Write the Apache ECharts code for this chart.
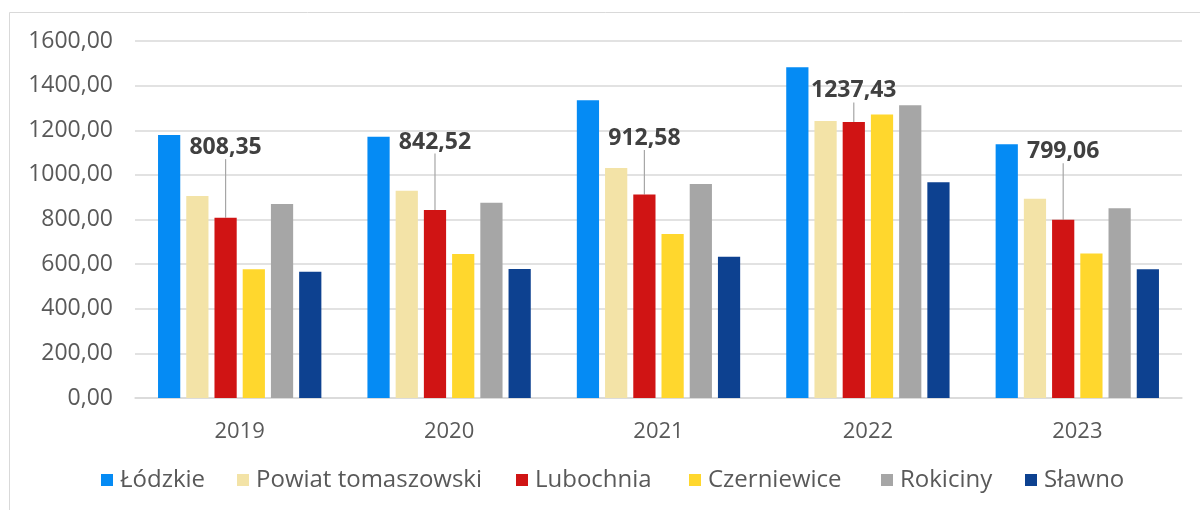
<!DOCTYPE html>
<html>
<head>
<meta charset="utf-8">
<script src="https://cdn.jsdelivr.net/npm/echarts@6/dist/echarts.min.js"></script>
<style>
html,body{margin:0;padding:0;background:#fff;}
#chart{width:1200px;height:510px;}
</style>
</head>
<body>
<div id="chart"></div>
<script>
const categories = ['2019', '2020', '2021', '2022', '2023'];
const seriesNames = ['Łódzkie', 'Powiat tomaszowski', 'Lubochnia', 'Czerniewice', 'Rokiciny', 'Sławno'];
const lodzkie = [1179, 1171, 1334, 1482, 1137];
const powiatTomaszowski = [905, 929, 1031, 1242, 893];
const lubochnia = [808.35, 842.52, 912.58, 1237.43, 799.06];
const czerniewice = [577, 645, 735, 1271, 648];
const rokiciny = [870, 875, 959, 1312, 850];
const slawno = [566, 578, 633, 967, 577];
const yTicks = { min: 0, max: 1600, interval: 200 };

const colors = ['#058bf4', '#f3e3a7', '#d01414', '#ffd72d', '#a6a6a6', '#0d4190'];
const labelLift = [70, 68, 56, 31, 68]; // label centre distance above bar top (px)
const legendLeft = [101, 237, 516, 689, 881, 1025]; // legend item x positions (px)
const FONT = 'Open Sans';

const dataSets = [lodzkie, powiatTomaszowski, lubochnia, czerniewice, rokiciny, slawno];
const fmt = v => Number(v).toFixed(2).replace('.', ',');

const series = dataSets.map((d, i) => {
  const s = {
    name: seriesNames[i],
    type: 'bar',
    data: d,
    barGap: '27%',
    barCategoryGap: '22%',
    itemStyle: { color: colors[i] },
    emphasis: { disabled: true }
  };
  if (i === 2) {
    s.label = {
      show: true,
      position: 'top',
      distance: 5,
      formatter: p => fmt(p.value),
      fontFamily: FONT,
      fontWeight: 'bold',
      fontSize: 23,
      color: '#404040'
    };
    s.labelLine = { show: true, lineStyle: { color: '#a6a6a6', width: 1.2 } };
    s.labelLayout = function (p) {
      const top = p.rect.y;
      const target = top - labelLift[p.dataIndex];
      const cur = p.labelRect.y + p.labelRect.height / 2;
      return { dy: target - cur };
    };
  }
  return s;
});

const legends = seriesNames.map((n, i) => ({
  data: [n],
  left: legendLeft[i],
  top: 468,
  itemWidth: 12,
  itemHeight: 12,
  icon: 'rect',
  padding: 0,
  selectedMode: false,
  textStyle: { fontFamily: FONT, fontSize: 24, color: '#595959', padding: [0, 0, 0, 2] }
}));

const chart = echarts.init(document.getElementById('chart'), null, { renderer: 'canvas' });
chart.setOption({
  animation: false,
  backgroundColor: '#fff',
  graphic: [{
    type: 'rect',
    shape: { x: 9.5, y: 12.5, width: 1300, height: 600 },
    style: { fill: 'none', stroke: '#d9d9d9', lineWidth: 1 },
    silent: true, z: -1
  }],
  grid: { left: 135, right: 18, top: 41, bottom: 112, containLabel: false },
  legend: legends,
  xAxis: {
    type: 'category',
    data: categories,
    axisTick: { show: false },
    axisLine: { lineStyle: { color: '#d9d9d9', width: 1.5 } },
    axisLabel: { fontFamily: FONT, fontSize: 22, color: '#595959', margin: 23 }
  },
  yAxis: {
    type: 'value',
    min: yTicks.min,
    max: yTicks.max,
    interval: yTicks.interval,
    axisLine: { show: false },
    axisTick: { show: false },
    splitLine: { lineStyle: { color: '#d9d9d9', width: 1.5 } },
    axisLabel: { fontFamily: FONT, fontSize: 23, color: '#595959', margin: 22, formatter: fmt }
  },
  series: series
});
</script>
</body>
</html>
